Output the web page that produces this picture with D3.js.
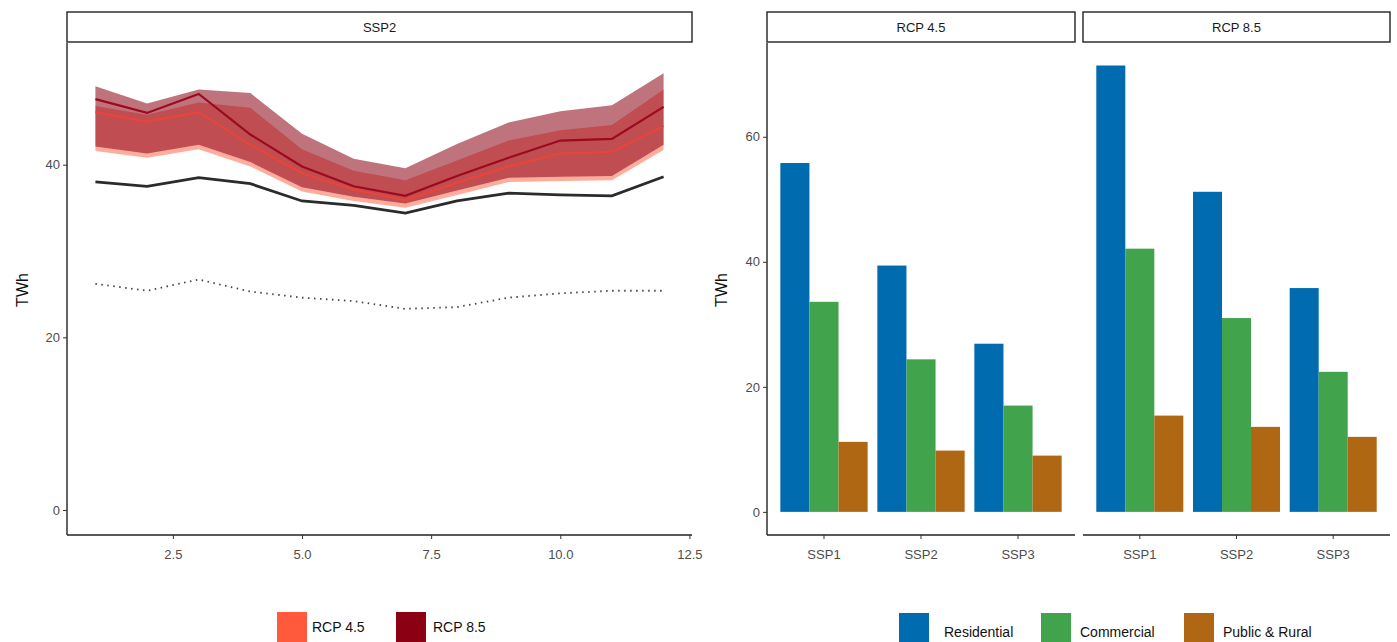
<!DOCTYPE html>
<html><head><meta charset="utf-8">
<script src="https://cdn.jsdelivr.net/npm/d3@7"></script>
<style>body{margin:0;background:#fff;font-family:"Liberation Sans",Arial,sans-serif}</style>
</head><body><div id="chart"></div>
<script>
var W = 1397, H = 642;

// left panel data (monthly, SSP2)
var months = [1,2,3,4,5,6,7,8,9,10,11,12];
var baseline = [38.0,37.5,38.5,37.8,35.8,35.3,34.4,35.8,36.7,36.5,36.4,38.6];
var dotted = [26.2,25.4,26.7,25.3,24.6,24.2,23.3,23.5,24.6,25.1,25.4,25.4];
var rcp45Mean = [46.1,45.0,46.1,42.3,39.0,37.1,35.9,37.9,39.8,41.3,41.5,44.5];
var rcp45Lo = [41.6,40.8,41.8,39.8,36.9,35.8,35.0,36.5,38.0,38.1,38.2,41.7];
var rcp45Hi = [46.8,45.8,47.2,46.6,41.8,39.3,38.2,40.5,42.8,44.0,44.6,48.7];
var rcp85Mean = [47.6,46.0,48.2,43.5,39.8,37.5,36.4,38.7,40.8,42.8,43.0,46.7];
var rcp85Lo = [42.1,41.3,42.3,40.3,37.4,36.3,35.5,37.0,38.5,38.6,38.7,42.3];
var rcp85Hi = [49.1,47.1,48.7,48.3,43.6,40.7,39.6,42.4,44.9,46.2,46.9,50.6];
var xTicks = [2.5,5.0,7.5,10.0,12.5];
var yTicksL = [0,20,40];

// right panel data
var panels = ["RCP 4.5","RCP 8.5"];
var ssps = ["SSP1","SSP2","SSP3"];
var sectors = ["Residential","Commercial","Public & Rural"];
var sectorColors = ["#006BAE","#41A34C","#AF6714"];
var bars45 = [[55.8,33.6,11.2],[39.4,24.4,9.8],[26.9,17.0,9.0]];
var bars85 = [[71.4,42.1,15.4],[51.2,31.0,13.6],[35.8,22.4,12.0]];
var yTicksR = [0,20,40,60];

var svg = d3.select("#chart").append("svg").attr("width", W).attr("height", H);
var tickCol = "#4d4d4d";

function strip(x0, x1, label) {
  svg.append("rect").attr("x", x0).attr("y", 12).attr("width", x1 - x0).attr("height", 30)
    .attr("fill", "#fff").attr("stroke", "#222").attr("stroke-width", 1.4);
  svg.append("text").attr("x", (x0 + x1) / 2).attr("y", 32).attr("text-anchor", "middle")
    .attr("font-size", 13).attr("fill", "#1a1a1a").text(label);
}
function styleAxis(g) {
  g.selectAll("path").attr("stroke", "#222").attr("stroke-width", 1.4);
  g.selectAll("line").attr("stroke", "#333");
  g.selectAll("text").attr("fill", tickCol).attr("font-size", 13)
    .attr("font-family", "Liberation Sans, Arial, sans-serif");
}

// ---- left panel
var lx0 = 67, lx1 = 692, plotTop = 43, bot = 535;
var x = d3.scaleLinear().domain([0.45, 12.55]).range([lx0, lx1]);
var y = d3.scaleLinear().domain([-2.9, 54.1]).range([bot, plotTop]);
strip(lx0, lx1, "SSP2");

var area = function(lo, hi) {
  return d3.area().x(function(d, i) { return x(months[i]); })
    .y0(function(d, i) { return y(lo[i]); }).y1(function(d, i) { return y(hi[i]); })(months);
};
var line = function(v) {
  return d3.line().x(function(d, i) { return x(months[i]); }).y(function(d) { return y(d); })(v);
};
svg.append("path").attr("d", area(rcp45Lo, rcp45Hi)).attr("fill", "#FF5A3C").attr("opacity", 0.5);
svg.append("path").attr("d", area(rcp85Lo, rcp85Hi)).attr("fill", "#8B0012").attr("opacity", 0.55);
svg.append("path").attr("d", line(rcp45Mean)).attr("fill", "none").attr("stroke", "#E8453A").attr("stroke-width", 2.2);
svg.append("path").attr("d", line(rcp85Mean)).attr("fill", "none").attr("stroke", "#9B0A1E").attr("stroke-width", 2.2);
svg.append("path").attr("d", line(baseline)).attr("fill", "none").attr("stroke", "#2b2b2b").attr("stroke-width", 2.8);
svg.append("path").attr("d", line(dotted)).attr("fill", "none").attr("stroke", "#444").attr("stroke-width", 1.8)
  .attr("stroke-dasharray", "1.5,4.5");

var gx = svg.append("g").attr("transform", "translate(0," + bot + ")")
  .call(d3.axisBottom(x).tickValues(xTicks).tickFormat(d3.format(".1f")).tickSize(4).tickSizeOuter(0));
gx.select("path").attr("d", "M" + lx0 + ",0H" + lx1);
gx.selectAll("text").attr("dy", "1.3em");
styleAxis(gx);
var gy = svg.append("g").attr("transform", "translate(" + lx0 + ",0)")
  .call(d3.axisLeft(y).tickValues(yTicksL).tickSize(4).tickSizeOuter(0));
gy.select("path").attr("d", "M0," + plotTop + "V" + bot);
styleAxis(gy);
svg.append("text").attr("transform", "translate(28,290) rotate(-90)").attr("text-anchor", "middle")
  .attr("font-size", 16).attr("fill", "#111").text("TWh");

// ---- right panels
var yr = d3.scaleLinear().domain([-3.7, 75.0]).range([bot, plotTop]);
var px = [[767, 1075], [1083, 1390]];
panels.forEach(function(p, pi) {
  var x0 = px[pi][0], x1 = px[pi][1];
  strip(x0, x1, p);
  var data = pi === 0 ? bars45 : bars85;
  var xb = d3.scaleBand().domain(ssps).range([x0, x1]).paddingInner(0.1).paddingOuter(0.1375);
  var xs = d3.scaleBand().domain(sectors).range([0, xb.bandwidth()]);
  ssps.forEach(function(s, si) {
    svg.append("g").selectAll("rect").data(data[si]).enter().append("rect")
      .attr("x", function(d, k) { return xb(s) + xs(sectors[k]); })
      .attr("width", xs.bandwidth())
      .attr("y", function(d) { return yr(d); })
      .attr("height", function(d) { return yr(0) - yr(d); })
      .attr("fill", function(d, k) { return sectorColors[k]; });
  });
  var ga = svg.append("g").attr("transform", "translate(0," + bot + ")")
    .call(d3.axisBottom(xb).tickSize(4).tickSizeOuter(0));
  ga.select("path").attr("d", "M" + x0 + ",0H" + x1);
  ga.selectAll("text").attr("dy", "1.3em");
  styleAxis(ga);
  if (pi === 0) {
    var gyr = svg.append("g").attr("transform", "translate(" + x0 + ",0)")
      .call(d3.axisLeft(yr).tickValues(yTicksR).tickSize(4).tickSizeOuter(0));
    gyr.select("path").attr("d", "M0," + plotTop + "V" + bot);
    styleAxis(gyr);
  }
});
svg.append("text").attr("transform", "translate(727,290) rotate(-90)").attr("text-anchor", "middle")
  .attr("font-size", 16).attr("fill", "#111").text("TWh");

// ---- legends
var legL = [["RCP 4.5", "#FF5A3C", 277, 312], ["RCP 8.5", "#8B0012", 396, 433]];
legL.forEach(function(l) {
  svg.append("rect").attr("x", l[2]).attr("y", 612).attr("width", 30).attr("height", 30).attr("fill", l[1]);
  svg.append("text").attr("x", l[3]).attr("y", 632).attr("font-size", 14).attr("fill", "#111").text(l[0]);
});
var legR = [899, 1041, 1184];
var legRText = [944, 1080, 1223];
sectors.forEach(function(s, k) {
  svg.append("rect").attr("x", legR[k]).attr("y", 613).attr("width", 30).attr("height", 30).attr("fill", sectorColors[k]);
  svg.append("text").attr("x", legRText[k]).attr("y", 637).attr("font-size", 14).attr("fill", "#111").text(s);
});
</script></body></html>
